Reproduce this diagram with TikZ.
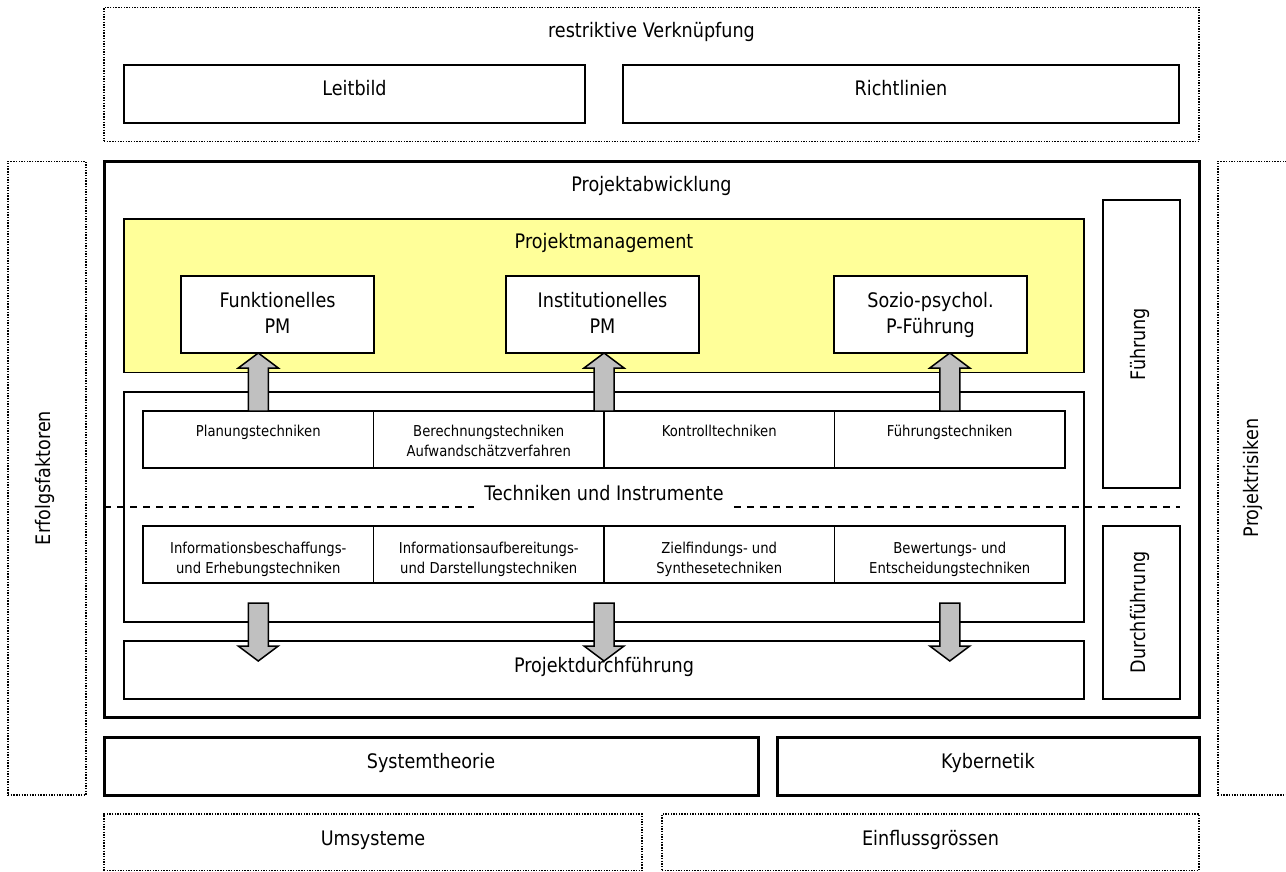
\documentclass[tikz,border=0pt]{standalone}
\usepackage{fontspec}
\setmainfont{DejaVu Sans}[FakeStretch=0.88]
\usetikzlibrary{calc}
\definecolor{pmyellow}{HTML}{FFFF99}
\definecolor{arrgray}{HTML}{C0C0C0}
\newcommand\twol[2]{\begin{tabular}[t]{@{}c@{}}#1\\#2\end{tabular}}
% box: style, name, x1, y1, x2, y2 (pixel coordinates, y downwards)
\newcommand\bx[6]{\node[#1, minimum width={(#5-#3)*1pt}, minimum height={(#6-#4)*1pt}] (#2) at (#3,#4) {};}
\newcommand\uparr[2]{\draw[fat] let \p1=(#1), \p2=(#2) in
  (\x1-10pt,\y1) -- (\x1-10pt,\y2-15pt) -- (\x1-20pt,\y2-15pt) -- (\x1,\y2)
  -- (\x1+20pt,\y2-15pt) -- (\x1+10pt,\y2-15pt) -- (\x1+10pt,\y1) -- cycle;}
\newcommand\dnarr[2]{\draw[fat] let \p1=(#1), \p2=(#2) in
  (\x1-10pt,\y1) -- (\x1-10pt,\y2+15pt) -- (\x1-20pt,\y2+15pt) -- (\x1,\y2)
  -- (\x1+20pt,\y2+15pt) -- (\x1+10pt,\y2+15pt) -- (\x1+10pt,\y1) -- cycle;}
\begin{document}
\begin{tikzpicture}[x=1pt,y=-1pt,
  box/.style={draw, line width=1.8pt, inner sep=0pt, outer sep=0pt, anchor=north west},
  thickbox/.style={box, line width=3pt},
  dotbox/.style={box, line width=1.4pt, dash pattern=on 1.4pt off 1.3pt},
  yellowbox/.style={box, fill=pmyellow},
  big/.style={font=\fontsize{20}{26}\selectfont, inner sep=0pt, anchor=base},
  small/.style={font=\fontsize{15}{20}\selectfont, inner sep=0pt, anchor=base},
  fat/.style={draw, line width=1.5pt, fill=arrgray, line join=miter},
  dashline/.style={line width=1.8pt, dash pattern=on 7pt off 6pt}]
\useasboundingbox (0,0) rectangle (1286,872);
\clip (0,0) rectangle (1286,872);

% top area
\bx{dotbox}{top}{104}{7.5}{1199}{141.5}
\node[big] (topT) at ($(top.north)+(0,30)$) {restriktive Verknüpfung};
\bx{box}{leit}{124}{65}{585}{123}
\node[big] (leitT) at ($(leit.north)+(0,31)$) {Leitbild};
\bx{box}{richt}{623}{65}{1179}{123}
\node[big] (richtT) at ($(richt.north)+(0,31)$) {Richtlinien};

% side boxes
\bx{dotbox}{erf}{8}{161.5}{86}{795}
\node[big, rotate=90] (erfT) at (50,478) {Erfolgsfaktoren};
\bx{dotbox}{ris}{1218}{161.5}{1296}{795}
\node[big, rotate=90] (risT) at (1258,478) {Projektrisiken};

% main box
\bx{thickbox}{main}{104}{161.5}{1199}{717.5}
\node[big] (mainT) at ($(main.north)+(0,30.5)$) {Projektabwicklung};

% Projektmanagement
\bx{yellowbox}{pm}{124}{219}{1084}{372.5}
\node[big] (pmT) at ($(pm.north)+(0,29)$) {Projektmanagement};
\bx{box,fill=white}{fpm}{181}{276}{374}{353}
\node[big] (fpmT) at ($(fpm.north)+(0,31)$) {\twol{Funktionelles}{PM}};
\bx{box,fill=white}{ipm}{506}{276}{699}{353}
\node[big] (ipmT) at ($(ipm.north)+(0,31)$) {\twol{Institutionelles}{PM}};
\bx{box,fill=white}{spm}{834}{276}{1027}{353}
\node[big] (spmT) at ($(spm.north)+(0,31)$) {\twol{Sozio-psychol.}{P-Führung}};

% Führung / Durchführung
\bx{box}{fue}{1103}{200}{1180}{488}
\node[big, rotate=90] (fueT) at (1145,344) {Führung};
\bx{box}{dur}{1103}{526}{1180}{699}
\node[big, rotate=90] (durT) at (1145,612.5) {Durchführung};

% Techniken und Instrumente
\bx{box}{tech}{124}{392}{1084}{622}
\bx{box}{u1}{143}{411}{373.5}{468}
\bx{box}{u2}{373.5}{411}{604}{468}
\bx{box}{u3}{604}{411}{834.5}{468}
\bx{box}{u4}{834.5}{411}{1065}{468}
\node[small] (u1T) at ($(u1.north)+(0,25)$) {Planungstechniken};
\node[small] (u2T) at ($(u2.north)+(0,25)$) {\twol{Berechnungstechniken}{Aufwandschätzverfahren}};
\node[small] (u3T) at ($(u3.north)+(0,25)$) {Kontrolltechniken};
\node[small] (u4T) at ($(u4.north)+(0,25)$) {Führungstechniken};

\bx{box}{d1}{143}{526}{373.5}{583}
\bx{box}{d2}{373.5}{526}{604}{583}
\bx{box}{d3}{604}{526}{834.5}{583}
\bx{box}{d4}{834.5}{526}{1065}{583}
\node[small] (d1T) at ($(d1.north)+(0,27)$) {\twol{Informationsbeschaffungs-}{und Erhebungstechniken}};
\node[small] (d2T) at ($(d2.north)+(0,27)$) {\twol{Informationsaufbereitungs-}{und Darstellungstechniken}};
\node[small] (d3T) at ($(d3.north)+(0,27)$) {\twol{Zielfindungs- und}{Synthesetechniken}};
\node[small] (d4T) at ($(d4.north)+(0,27)$) {\twol{Bewertungs- und}{Entscheidungstechniken}};

\node[big] (tui) at (604,500) {Techniken und Instrumente};
\coordinate (dl) at (104,507);
\coordinate (dr) at (1180,507);
\draw[dashline] (dl) -- ($(tui.west |- dl)+(-10,0)$);
\draw[dashline] ($(tui.east |- dr)+(10,0)$) -- (dr);

% Projektdurchführung
\bx{box}{pd}{124}{641}{1084}{699}
\node[big] (pdT) at ($(pd.north)+(0,31)$) {Projektdurchführung};

% arrows
\uparr{u1.north}{fpm.south}
\uparr{u2.north east}{ipm.south}
\uparr{u4.north}{spm.south}
\dnarr{$(d1.south)+(0,20)$}{$(pd.north)+(0,20)$}
\dnarr{$(d2.south east)+(0,20)$}{$(pd.north)+(0,20)$}
\dnarr{$(d4.south)+(0,20)$}{$(pd.north)+(0,20)$}

% bottom
\bx{thickbox}{sys}{104}{737}{758}{795.5}
\node[big] (sysT) at ($(sys.north)+(0,31)$) {Systemtheorie};
\bx{thickbox}{kyb}{777}{737}{1199}{795.5}
\node[big] (kybT) at ($(kyb.north)+(0,31)$) {Kybernetik};
\bx{dotbox}{ums}{104}{814}{642}{870.5}
\node[big] (umsT) at ($(ums.north)+(0,31)$) {Umsysteme};
\bx{dotbox}{einf}{662}{814}{1199}{870.5}
\node[big] (einfT) at ($(einf.north)+(0,31)$) {Einflussgrössen};
\end{tikzpicture}
\end{document}
